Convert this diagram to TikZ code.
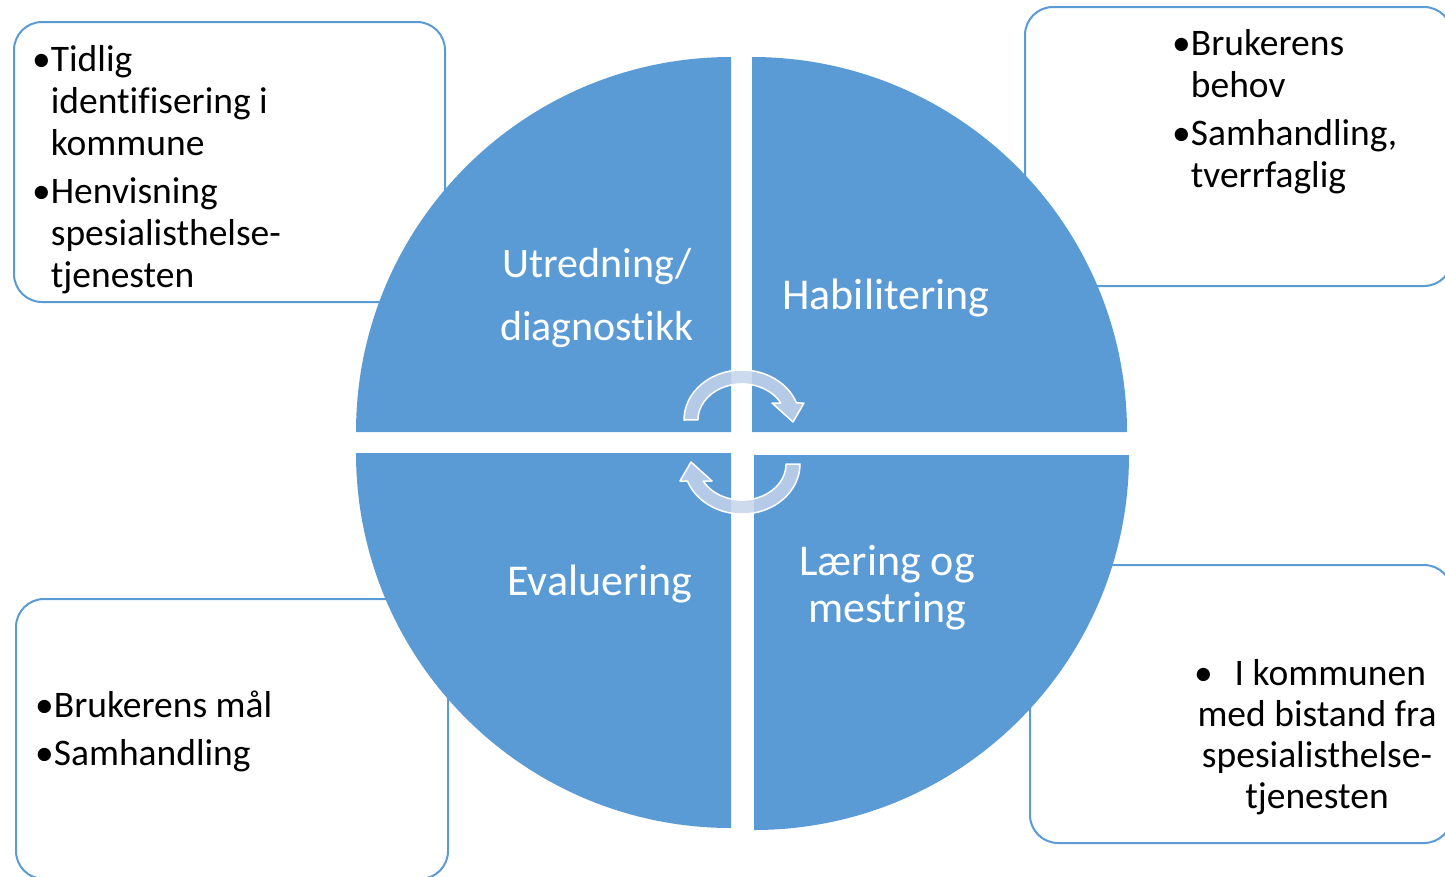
\documentclass[tikz,border=0pt]{standalone}
\usepackage{fontspec}
\setmainfont{Carlito}[Ligatures={NoCommon,NoContextual}]
\definecolor{pieblue}{HTML}{5B9BD5}
\definecolor{boxline}{HTML}{5B9BD5}
\definecolor{arrowfill}{RGB}{196,211,235}

\begin{document}
\begin{tikzpicture}[x=1pt,y=-1pt,
  infobox/.style={draw=boxline, line width=2pt, fill=white, rounded corners=28pt},
  quadrant/.style={fill=pieblue},
  boxtext/.style={inner sep=0pt, text=black, font=\fontsize{37.5}{42}\selectfont},
  pietext/.style={inner sep=0pt, text=white, font=\fontsize{44}{47}\selectfont},
  cyclearrow/.style={fill=arrowfill, fill opacity=0.85, draw=white, line width=1.5pt, line join=round}
]
\useasboundingbox (0,0) rectangle (1445,876);
\clip (0,0) rectangle (1445,876);

% info boxes behind the circle
\draw[infobox] (14,22) rectangle (445,302);
\draw[infobox] (1025,7) rectangle (1452,286);
\draw[infobox] (16,599) rectangle (448,879);
\draw[infobox] (1030,565) rectangle (1452,843);

% four quarter discs
\fill[quadrant] (731,432) -- (356,432) arc[start angle=180, end angle=270, radius=375] -- cycle;
\fill[quadrant] (752,432) -- (752,57) arc[start angle=270, end angle=360, radius=375] -- cycle;
\fill[quadrant] (754,455) -- (1129,455) arc[start angle=0, end angle=90, radius=375] -- cycle;
\fill[quadrant] (731,453) -- (731,828) arc[start angle=90, end angle=180, radius=375] -- cycle;

% box texts
\node[boxtext, anchor=base west] (tlText) at (32,71) {%
  \begin{tabular}[t]{@{}l@{}l@{}}
  •&Tidlig\\
   &identifisering i\\
   &kommune\\[6pt]
  •&Henvisning\\
   &spesialisthelse-\\
   &tjenesten
  \end{tabular}};
\node[boxtext, anchor=base west] (trText) at (1172,55) {%
  \begin{tabular}[t]{@{}l@{}l@{}}
  •&Brukerens\\
   &behov\\[6pt]
  •&Samhandling,\\
   &tverrfaglig
  \end{tabular}};
\node[boxtext, anchor=base west] (blText) at (35,717) {%
  \begin{tabular}[t]{@{}l@{}l@{}}
  •&Brukerens mål\\[6pt]
  •&Samhandling
  \end{tabular}};
\node[boxtext, anchor=base, font=\fontsize{37.5}{41}\selectfont] (brText) at (1317,685) {%
  \begin{tabular}[t]{@{}c@{}}
  •\hspace{22pt}I kommunen\hspace*{14pt}\\
  med bistand fra\\
  spesialisthelse-\\
  tjenesten
  \end{tabular}};

% quadrant labels
\node[pietext, anchor=base, font=\fontsize{42}{47}\selectfont] (utredning) at (597,277) {%
  \begin{tabular}[t]{@{}c@{}}Utredning/\\[16pt]diagnostikk\end{tabular}};
\node[pietext, anchor=base] (habilitering) at (886,309) {Habilitering};
\node[pietext, anchor=base] (evaluering) at (600,595) {Evaluering};
\node[pietext, anchor=base] (laering) at (887,575) {%
  \begin{tabular}[t]{@{}c@{}}Læring og\\mestring\end{tabular}};

% circular arrows in the middle
\path[cyclearrow] (684,420) arc[start angle=180, end angle=340.1, x radius=58, y radius=50]
  -- (804,403) -- (793,422) -- (772,403) -- (780.8,403)
  arc[start angle=332, end angle=180, x radius=44, y radius=36] -- cycle;
\begin{scope}[rotate around={180:(742,442)}]
\path[cyclearrow] (684,420) arc[start angle=180, end angle=340.1, x radius=58, y radius=50]
  -- (804,403) -- (793,422) -- (772,403) -- (780.8,403)
  arc[start angle=332, end angle=180, x radius=44, y radius=36] -- cycle;
\end{scope}
\end{tikzpicture}
\end{document}
